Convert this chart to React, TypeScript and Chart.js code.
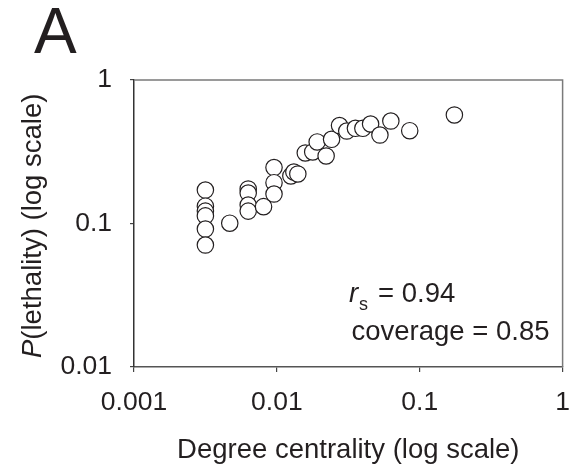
import React, { useEffect, useRef } from "react";
import { Chart, registerables } from "chart.js";

Chart.register(...registerables);

const FONT = "'Liberation Sans', Arial, Helvetica, sans-serif";
const INK = "#231f20";

const xTickValues = [0.001, 0.01, 0.1, 1];
const xTickLabels = ["0.001", "0.01", "0.1", "1"];
const yTickValues = [0.01, 0.1, 1];
const yTickLabels = ["0.01", "0.1", "1"];

const degreeCentrality = [
  0.00316, 0.00316, 0.00316, 0.00316, 0.00316, 0.00316,
  0.00468,
  0.0063, 0.0063, 0.0063, 0.0063,
  0.00807,
  0.00955, 0.00955, 0.00955,
  0.01253, 0.01315, 0.01402,
  0.01581, 0.01782, 0.01915, 0.02212, 0.02415, 0.02745, 0.03085,
  0.03546, 0.03998, 0.04529, 0.05264, 0.06277, 0.0851, 0.1748,
];
const pLethality = [
  0.171, 0.132, 0.122, 0.113, 0.0915, 0.0708,
  0.1005,
  0.174, 0.163, 0.1345, 0.122,
  0.131,
  0.2456, 0.1925, 0.1605,
  0.2143, 0.2285, 0.2213,
  0.31, 0.315, 0.37, 0.2954, 0.386, 0.4818, 0.441,
  0.4607, 0.4607, 0.4936, 0.4137, 0.5178, 0.4432, 0.5704,
];

const panelLabel = "A";
const yTitleItalic = "P";
const yTitleRest = "(lethality) (log scale)";
const xTitle = "Degree centrality (log scale)";
const statR = "r";
const statSub = "s";
const statValue = "= 0.94";
const coverageText = "coverage = 0.85";

const decorPlugin = {
  id: "decor",
  afterDraw(chart: any) {
    const { ctx, chartArea } = chart;
    ctx.save();
    // top & right frame
    ctx.strokeStyle = "#7a7a7a";
    ctx.lineWidth = 1.5;
    ctx.beginPath();
    ctx.moveTo(chartArea.left, chartArea.top);
    ctx.lineTo(chartArea.right, chartArea.top);
    ctx.lineTo(chartArea.right, chartArea.bottom);
    ctx.stroke();

    ctx.fillStyle = INK;
    ctx.textBaseline = "alphabetic";
    ctx.textAlign = "left";
    // panel label
    ctx.font = `64px ${FONT}`;
    ctx.fillText(panelLabel, 34, 53);

    // y title (rotated)
    ctx.save();
    ctx.translate(41, 358);
    ctx.rotate(-Math.PI / 2);
    ctx.font = `italic 27.5px ${FONT}`;
    ctx.fillText(yTitleItalic, 0, 0);
    const w = ctx.measureText(yTitleItalic).width;
    ctx.font = `27.5px ${FONT}`;
    ctx.fillText(yTitleRest, w, 0);
    ctx.restore();

    // annotation
    ctx.font = `italic 27.5px ${FONT}`;
    ctx.fillText(statR, 349, 302);
    ctx.font = `18px ${FONT}`;
    ctx.fillText(statSub, 359, 310);
    ctx.font = `27.5px ${FONT}`;
    ctx.fillText(statValue, 378, 302);
    ctx.fillText(coverageText, 351.5, 340);
    ctx.restore();
  },
};

export default function App() {
  const canvasRef = useRef<HTMLCanvasElement | null>(null);

  useEffect(() => {
    const canvas = canvasRef.current;
    if (!canvas) return;
    const points = degreeCentrality.map((x, i) => ({ x, y: pLethality[i] }));
    const chart = new Chart(canvas, {
      type: "scatter",
      data: {
        datasets: [
          {
            data: points,
            pointRadius: 8.2,
            pointHoverRadius: 8.2,
            pointBorderWidth: 1.2,
            backgroundColor: "#ffffff",
            borderColor: INK,
          },
        ],
      },
      options: {
        animation: false,
        responsive: true,
        maintainAspectRatio: false,
        layout: { padding: { left: 0, right: 6, top: 80, bottom: 0 } },
        plugins: {
          legend: { display: false },
          tooltip: { enabled: false },
        },
        scales: {
          x: {
            type: "logarithmic",
            min: 0.001,
            max: 1,
            afterBuildTicks: (s: any) => {
              s.ticks = xTickValues.map((v) => ({ value: v }));
            },
            afterFit: (s: any) => {
              s.height = 107;
              s.paddingLeft = 0;
              s.paddingRight = 0;
            },
            ticks: {
              callback: (_v: any, i: number) => xTickLabels[i],
              font: { size: 26.5, family: FONT },
              color: INK,
              padding: 15,
              maxRotation: 0,
              autoSkip: false,
            },
            grid: {
              display: true,
              drawOnChartArea: false,
              drawTicks: true,
              tickLength: 5,
              color: "#444",
              lineWidth: 1.2,
            },
            border: { display: true, color: "#555", width: 1.5 },
            title: {
              display: true,
              text: xTitle,
              font: { size: 27.5, family: FONT },
              color: INK,
              padding: { top: 0, bottom: 7 },
            },
          },
          y: {
            type: "logarithmic",
            min: 0.01,
            max: 1,
            afterBuildTicks: (s: any) => {
              s.ticks = yTickValues.map((v) => ({ value: v }));
            },
            afterFit: (s: any) => {
              s.width = 134;
              s.paddingTop = 0;
              s.paddingBottom = 0;
            },
            ticks: {
              callback: (_v: any, i: number) => yTickLabels[i],
              font: { size: 26.5, family: FONT },
              color: INK,
              padding: 18,
              autoSkip: false,
            },
            grid: {
              display: true,
              drawOnChartArea: false,
              drawTicks: true,
              tickLength: 4,
              color: "#444",
              lineWidth: 1.2,
            },
            border: { display: true, color: "#333", width: 1.5 },
            title: { display: false },
          },
        },
      },
      plugins: [decorPlugin],
    } as any);
    return () => chart.destroy();
  }, []);

  return (
    <div style={{ position: "absolute", left: 0, top: 0, width: 572, height: 474, background: "#fff" }}>
      <canvas ref={canvasRef} />
    </div>
  );
}
